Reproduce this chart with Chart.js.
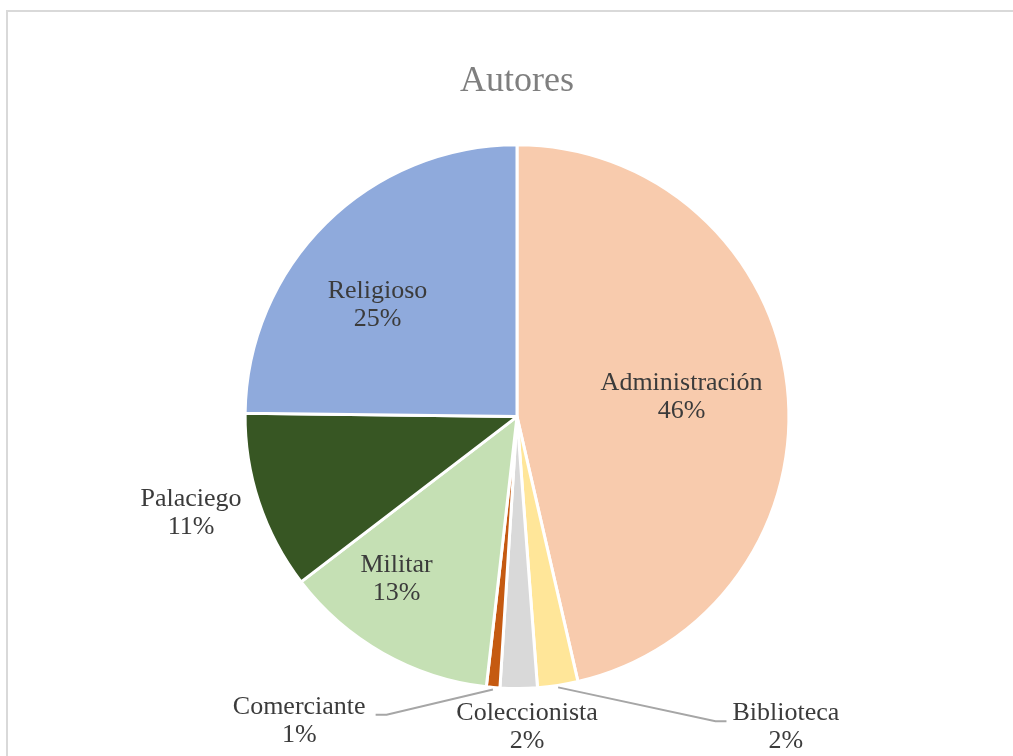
<!DOCTYPE html>
<html><head><meta charset="utf-8">
<script src="https://cdn.jsdelivr.net/npm/chart.js@4.4.0/dist/chart.umd.min.js"></script>
<style>
html,body{margin:0;padding:0;background:#fff;overflow:hidden;width:1013px;height:756px;}
#frame{position:absolute;left:6px;top:10px;width:1100px;height:900px;border:2px solid #d9d9d9;box-sizing:border-box;}
#wrap{position:absolute;left:0;top:0;width:1013px;height:756px;}
</style></head><body>
<div id="frame"></div>
<div id="wrap"><canvas id="c"></canvas></div>
<script>
const chartTitle = 'Autores';
const categories = ['Administración','Biblioteca','Coleccionista','Comerciante','Militar','Palaciego','Religioso'];
const values = [46.4, 2.4, 2.2, 0.8, 12.8, 10.6, 24.8];
const colors = ['#F8CBAD','#FFE699','#D9D9D9','#C55A11','#C5E0B4','#375623','#8FAADC'];

// label block centre relative to pie centre, in radius units; leader: side of label the line attaches to
const labelPlacement = [
  {dx: 0.605, dy: -0.07},
  {dx: 0.989, dy: 1.144, leader: 'left'},
  {dx: 0.037, dy: 1.142},
  {dx: -0.801, dy: 1.12, leader: 'right'},
  {dx: -0.443, dy: 0.598},
  {dx: -1.199, dy: 0.354},
  {dx: -0.513, dy: -0.41}
];

const FONT = '"Liberation Serif", "Times New Roman", serif';
const total = values.reduce((a, b) => a + b, 0);

const labelPlugin = {
  id: 'pieLabels',
  afterDatasetsDraw(chart) {
    const ctx = chart.ctx;
    const meta = chart.getDatasetMeta(0);
    ctx.save();
    ctx.font = '26px ' + FONT;
    ctx.fillStyle = '#3b3b3b';
    ctx.textAlign = 'center';
    ctx.textBaseline = 'middle';
    meta.data.forEach((arc, i) => {
      const p = labelPlacement[i];
      const r = arc.outerRadius;
      const cx = arc.x + p.dx * r;
      const cy = arc.y + p.dy * r;
      const pct = Math.round(values[i] / total * 100) + '%';
      const lines = [categories[i], pct];
      const lh = 28;
      lines.forEach((t, k) => ctx.fillText(t, cx, cy + (k - 0.5) * lh));
      if (p.leader) {
        const w = Math.max(...lines.map(t => ctx.measureText(t).width));
        const mid = (arc.startAngle + arc.endAngle) / 2;
        const sx = arc.x + Math.cos(mid) * (r + 2);
        const sy = arc.y + Math.sin(mid) * (r + 2);
        const ly = cy - 6.5;
        let ex, ox;
        if (p.leader === 'right') { ex = cx + w / 2 + 21; ox = cx + w / 2 + 10; }
        else { ex = cx - w / 2 - 17; ox = cx - w / 2 - 6; }
        ctx.strokeStyle = '#a6a6a6';
        ctx.lineWidth = 2;
        ctx.beginPath();
        ctx.moveTo(sx, sy);
        ctx.lineTo(ex, ly);
        ctx.lineTo(ox, ly);
        ctx.stroke();
      }
    });
    ctx.restore();
  }
};

new Chart(document.getElementById('c'), {
  type: 'pie',
  data: {
    labels: categories,
    datasets: [{
      data: values,
      backgroundColor: colors,
      borderColor: '#ffffff',
      borderWidth: 3
    }]
  },
  options: {
    responsive: true,
    maintainAspectRatio: false,
    animation: false,
    layout: { padding: { left: 243, right: 222, top: 0, bottom: 66 } },
    plugins: {
      legend: { display: false },
      tooltip: { enabled: false },
      title: {
        display: true,
        text: chartTitle,
        color: '#7f7f7f',
        font: { family: FONT, size: 36, weight: 'normal', lineHeight: 1.2 },
        padding: { top: 60, bottom: 40 }
      }
    }
  },
  plugins: [labelPlugin]
});
</script>
</body></html>
